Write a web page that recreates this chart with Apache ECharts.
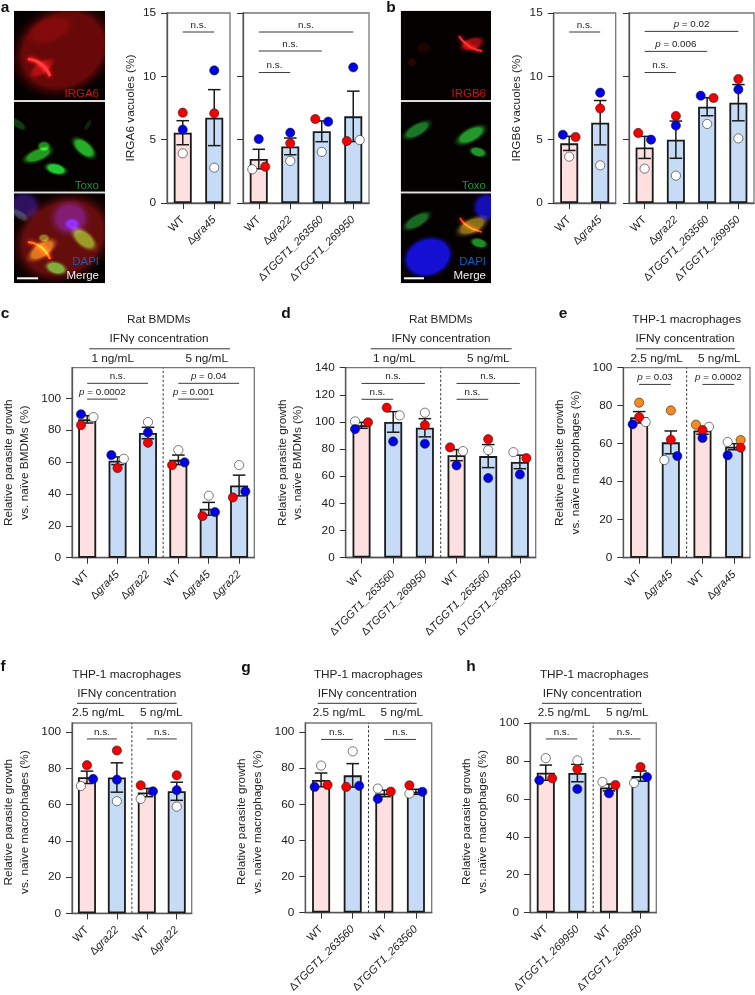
<!DOCTYPE html>
<html><head><meta charset="utf-8">
<style>html,body{margin:0;padding:0;background:#fff}#c{width:755px;height:995px}</style>
<script src="https://cdn.jsdelivr.net/npm/echarts@6/dist/echarts.min.js"></script>
</head><body><div id="c"></div>
<script>
// ---------- tick labels ----------
const ticksVac=[0,5,10,15];
const ticksTo100=[0,20,40,60,80,100];
const ticksTo140=[0,20,40,60,80,100,120,140];
// ---------- panel a ----------
const a1Cats=['WT','Δgra45'];
const a1Mean=[5.55,6.74], a1Sem=[0.95,2.21];
const a1Red=[7.13,7.08], a1Blue=[5.79,10.47], a1White=[3.92,2.79];
const a2Cats=['WT','Δgra22','ΔTGGT1_263560','ΔTGGT1_269950'];
const a2Mean=[3.47,4.47,5.66,6.84], a2Sem=[0.77,0.66,0.82,1.99];
const a2Red=[2.87,4.71,6.63,4.89], a2Blue=[5.05,5.55,6.42,10.71], a2White=[2.66,3.32,4.03,4.97];
// ---------- panel b ----------
const b1Cats=['WT','Δgra45'];
const b1Mean=[4.71,6.34], b1Sem=[0.56,1.75];
const b1Red=[5.21,7.47], b1Blue=[5.39,8.71], b1White=[3.66,2.97];
const b2Cats=['WT','Δgra22','ΔTGGT1_263560','ΔTGGT1_269950'];
const b2Mean=[4.39,5.0,7.6,7.92], b2Sem=[0.87,1.47,0.71,1.43];
const b2Red=[5.53,6.87,8.29,9.79], b2Blue=[5.0,6.11,8.47,8.97], b2White=[2.71,2.16,6.24,5.1];
// ---------- panel c ----------
const cCats=['WT','Δgra45','Δgra22','WT','Δgra45','Δgra22'];
const cMean=[86.8,60.8,78.2,61.4,30.7,45.3], cSem=[2.3,2.4,3.6,3.0,4.0,6.5];
const cRed=[83.2,56.2,72.1,58.1,26.1,37.8], cBlue=[90,64.4,78.6,59.8,28.6,41.6], cWhite=[88.2,62.1,85.1,67.5,38.9,58.1];
// ---------- panel d ----------
const dCats=['WT','ΔTGGT1_263560','ΔTGGT1_269950','WT','ΔTGGT1_263560','ΔTGGT1_269950'];
const dMean=[97.5,100,95.7,75.5,74.8,70.5], dSem=[2.2,7.6,6.7,4.1,8.5,5.0];
const dRed=[99.7,110.5,97.7,81.2,87.3,73.3], dBlue=[94.7,85.6,83.9,67.9,58.6,61.3], dWhite=[100.4,104.8,106.8,78.5,79.2,77.7];
// ---------- panel e ----------
const eCats=['WT','Δgra45','WT','Δgra45'];
const eMean=[73.9,60.7,67,58.4], eSem=[3.0,6.0,2.0,1.6];
const eRed=[74,62.1,67.2,57.9], eBlue=[70.2,53.5,63,53.9], eWhite=[71.4,51.4,68.9,60.9], eOrange=[81.6,77.5,70,61.9];
// ---------- panel f ----------
const fCats=['WT','Δgra22','WT','Δgra22'];
const fMean=[75.1,75,66.7,67.4], fSem=[3.4,8.1,2.3,5.0];
const fRed=[81.8,89.9,70.7,76.2], fBlue=[74.2,73.8,67.4,68], fWhite=[70.3,61.9,63.2,58.9];
// ---------- panel g ----------
const gCats=['WT','ΔTGGT1_263560','WT','ΔTGGT1_263560'];
const gMean=[73.5,76,66,66.9], gSem=[3.8,6.5,1.8,1.4];
const gRed=[70.7,69.6,67,70.5], gBlue=[69.6,70.2,63,66.9], gWhite=[81.4,89.3,68.7,65.9];
// ---------- panel h ----------
const hCats=['WT','ΔTGGT1_269950','WT','ΔTGGT1_269950'];
const hMean=[73.8,73.6,66,72], hSem=[4.0,4.6,1.8,2.7];
const hRed=[70.8,75.7,67.3,76.8], hBlue=[69.8,65.2,62.9,71.5], hWhite=[81.5,80.3,68.9,68.4];
// ---------- significance annotations: from, to, value level, label ----------
const a1Sig=[[0,1,13.5,'n.s.']];
const a2Sig=[[0,3,13.5,'n.s.'],[0,2,12,'n.s.'],[0,1,10.3,'n.s.']];
const b1Sig=[[0,1,13.5,'n.s.']];
const b2Sig=[[0,3,13.55,'{i|p} = 0.02'],[0,2,11.97,'{i|p} = 0.006'],[0,1,10.3,'n.s.']];
const cSig=[[0,2,109.4,'n.s.'],[0,1,99.5,'{i|p} = 0.0002'],[3,5,109.4,'{i|p} = 0.04'],[3,4,99.5,'{i|p} = 0.001']];
const dSig=[[0,2,128.4,'n.s.'],[0,1,116.7,'n.s.'],[3,5,128.4,'n.s.'],[3,4,116.7,'n.s.']];
const eSig=[[0,1,91.2,'{i|p} = 0.03'],[2,3,91.2,'{i|p} = 0.0002']];
const fSig=[[0,1,96.3,'n.s.'],[2,3,96.3,'n.s.']];
const gSig=[[0,1,95.9,'n.s.'],[2,3,95.9,'n.s.']];
const hSig=[[0,1,91.6,'n.s.'],[2,3,91.6,'n.s.']];

// ---------- layout and styles ----------
const FONT='"Liberation Sans",Arial,Helvetica,sans-serif';
const INK='#222', PINK='#fde0df', BLUE='#c6dcf6';
const growth=(t)=>'Relative parasite growth\nvs. naïve '+t+' (%)';
const Z=[0,0,0,0,0,0];
const panels=[
 {box:[167,13,230,203],max:15,ticks:ticksVac,labels:true,name:'IRGA6 vacuoles (%)',gap:29,cats:a1Cats,mean:a1Mean,sem:a1Sem,red:a1Red,blue:a1Blue,white:a1White,sig:a1Sig,wt:[0],side:{}},
 {box:[243,13,369,203],max:15,ticks:ticksVac,labels:false,cats:a2Cats,mean:a2Mean,sem:a2Sem,red:a2Red,blue:a2Blue,white:a2White,sig:a2Sig,wt:[0],
  side:{red:[1,0,-1,-1],blue:[0,0,1,0],white:[-1,0,0,1]}},
 {box:[553.7,13,615.7,203],max:15,ticks:ticksVac,labels:true,name:'IRGB6 vacuoles (%)',gap:29,cats:b1Cats,mean:b1Mean,sem:b1Sem,red:b1Red,blue:b1Blue,white:b1White,sig:b1Sig,wt:[0],
  side:{red:[1,0],blue:[-1,0]}},
 {box:[629,13,754,203],max:15,ticks:ticksVac,labels:false,cats:b2Cats,mean:b2Mean,sem:b2Sem,red:b2Red,blue:b2Blue,white:b2White,sig:b2Sig,wt:[0],
  side:{red:[-1,0,1,0],blue:[1,0,-1,0]}},
 {box:[64.5,367.7,254.3,557.7],max:119.2,ticks:ticksTo100,labels:true,name:growth('BMDMs'),gap:40,cats:cCats,mean:cMean,sem:cSem,red:cRed,blue:cBlue,white:cWhite,sig:cSig,wt:[0,3],div:2.5,
  side:{red:[-1,0,0,-1,-1,-1],blue:[-1,-1,0,1,1,1],white:[1,1,0,0,0,0]}},
 {box:[345.7,367.7,535.7,557.5],max:140,ticks:ticksTo140,labels:true,name:growth('BMDMs'),gap:40,cats:dCats,mean:dMean,sem:dSem,red:dRed,blue:dBlue,white:dWhite,sig:dSig,wt:[0,3],div:2.5,
  side:{red:[1,-1,0,-1,0,1],blue:[-1,0,0,0,0,0],white:[-1,1,0,1,0,-1]}},
 {box:[623.3,367.7,750,557.7],max:100,ticks:ticksTo100,labels:true,name:growth('macrophages'),gap:40,cats:eCats,mean:eMean,sem:eSem,red:eRed,blue:eBlue,white:eWhite,orange:eOrange,sig:eSig,wt:[0,2],div:1.5,
  side:{red:[0,0,0,1],blue:[-1,1,0,-1],white:[1,-1,1,-1],orange:[0,0,-1,1]}},
 {box:[64.3,723,191.7,913.3],max:105.1,ticks:ticksTo100,labels:true,name:growth('macrophages'),gap:40,pad:8,cats:fCats,mean:fMean,sem:fSem,red:fRed,blue:fBlue,white:fWhite,sig:fSig,wt:[0,2],div:1.5,
  side:{red:[0,0,-1,0],blue:[1,0,1,0],white:[-1,0,-1,0]}},
 {box:[305.3,723,431.7,912.7],max:105,ticks:ticksTo100,labels:true,name:growth('macrophages'),gap:40,pad:8,cats:gCats,mean:gMean,sem:gSem,red:gRed,blue:gBlue,white:gWhite,sig:gSig,wt:[0,2],div:1.5,
  side:{red:[1,-1,1,-1],blue:[-1,1,-1,1],white:[0,0,-1,-1]}},
 {box:[530,723,656.3,912.7],max:100,ticks:ticksTo100,labels:true,name:growth('macrophages'),gap:40,pad:8,cats:hCats,mean:hMean,sem:hSem,red:hRed,blue:hBlue,white:hWhite,sig:hSig,wt:[0,2],div:1.5,
  side:{red:[1,0,1,0],blue:[-1,0,0,1],white:[0,0,-1,-1]}}
];
const DODGE=0.205;
const baseText={fontFamily:FONT,fontSize:11.8,color:INK};
const catText={fontFamily:FONT,fontSize:11,color:INK};
function catFmt(v){
  return v[0]==='Δ'?'{n|Δ}{i|'+v.slice(1)+'}':'{n|'+v+'}';
}
const grid=[],xAxis=[],yAxis=[],series=[];
panels.forEach((p,k)=>{
  const [l,t,r,b]=p.box;
  grid.push({left:l,top:t,width:r-l,height:b-t,show:true,borderColor:'#777',borderWidth:1.3,backgroundColor:'transparent'});
  const lineStyle={color:'#555',width:1.3};
  xAxis.push({type:'category',gridIndex:k,data:p.cats,boundaryGap:true,
    axisLine:{show:true,onZero:false,lineStyle},
    axisTick:{show:true,alignWithLabel:true,length:6,lineStyle:{color:'#333',width:1}},
    axisLabel:{show:true,interval:0,rotate:45,margin:15,verticalAlign:'middle',formatter:catFmt,hideOverlap:false,
      rich:{n:{...catText},i:{...catText,fontStyle:'italic'}}},
    splitLine:{show:false}});
  xAxis.push({type:'value',gridIndex:k,min:-0.5,max:p.cats.length-0.5,show:false,splitLine:{show:false}});
  yAxis.push({type:'value',gridIndex:k,min:0,max:p.max,
    name:p.name||'',nameLocation:'middle',nameGap:p.gap||0,nameRotate:90,nameMoveOverlap:false,
    nameTextStyle:{...baseText,lineHeight:15.5,align:'center',padding:p.pad?[0,p.pad,0,0]:0},
    axisLine:{show:true,onZero:false,lineStyle},
    axisTick:{show:true,length:6,customValues:p.ticks,lineStyle:{color:'#333',width:1}},
    axisLabel:{show:p.labels,customValues:p.labels?p.ticks:undefined,margin:11,...baseText},
    splitLine:{show:false}});
  const xc=2*k, xv=2*k+1;
  series.push({type:'bar',xAxisIndex:xc,yAxisIndex:k,barWidth:18,z:2,silent:true,
    data:p.mean.map((v,i)=>({value:v,itemStyle:{color:p.wt.includes(i)?PINK:BLUE,borderColor:'#1a1a1a',borderWidth:1.8}}))});
  series.push({type:'custom',xAxisIndex:xv,yAxisIndex:k,z:3,silent:true,
    data:p.mean.map((v,i)=>[i,v,p.sem[i]]),encode:{x:0,y:1},
    renderItem:(ps,api)=>{
      const i=api.value(0),m=api.value(1),s=api.value(2);
      const hi=api.coord([i,m+s]),lo=api.coord([i,m-s]);
      const st={stroke:'#1a1a1a',lineWidth:1.5,fill:null};
      return {type:'group',children:[
        {type:'line',shape:{x1:hi[0],y1:hi[1],x2:lo[0],y2:lo[1]},style:st},
        {type:'line',shape:{x1:hi[0]-6.3,y1:hi[1],x2:hi[0]+6.3,y2:hi[1]},style:st},
        {type:'line',shape:{x1:lo[0]-6.3,y1:lo[1],x2:lo[0]+6.3,y2:lo[1]},style:st}]};
    }});
  const dots=[['white','#ffffff'],['orange','#f68a1e'],['red','#f50000'],['blue','#0000e6']];
  dots.forEach(([key,col])=>{
    if(!p[key])return;
    const side=p.side[key]||Z;
    series.push({type:'scatter',xAxisIndex:xv,yAxisIndex:k,symbolSize:9.2,z:4,silent:true,clip:false,
      itemStyle:{color:col,borderColor:'#222',borderWidth:0.6,opacity:1},
      data:p[key].map((v,i)=>[i+side[i]*DODGE,v])});
  });
  series.push({type:'custom',xAxisIndex:xv,yAxisIndex:k,z:5,silent:true,clip:false,
    data:p.sig.map(s=>[s[0],s[2]]),encode:{x:0,y:1},
    renderItem:(ps,api)=>{
      const s=p.sig[ps.dataIndex];
      const a=api.coord([s[0],s[2]]),c=api.coord([s[1],s[2]]);
      return {type:'group',children:[
        {type:'line',shape:{x1:a[0],y1:a[1],x2:c[0],y2:c[1]},style:{stroke:INK,lineWidth:0.9,fill:null}},
        {type:'text',x:(a[0]+c[0])/2,y:a[1]-7,style:{text:s[3],x:0,y:0,align:'center',verticalAlign:'middle',fontFamily:FONT,fontSize:9.8,fill:INK,
          rich:{i:{fontStyle:'italic',fontFamily:FONT,fontSize:9.8,fill:INK}}}}]};
    }});
  if(p.div!==undefined){
    series.push({type:'custom',xAxisIndex:xv,yAxisIndex:k,z:5,silent:true,
      data:[[p.div,0]],encode:{x:0,y:1},
      renderItem:(ps,api)=>{
        const a=api.coord([api.value(0),0]),c=api.coord([api.value(0),p.max]);
        return {type:'line',shape:{x1:a[0],y1:a[1],x2:c[0],y2:c[1]},style:{stroke:INK,lineWidth:0.9,lineDash:[2.5,2],fill:null}};
      }});
  }
});

// ---------- header texts, panel letters and micrographs (non-data decoration) ----------
const g=[];
function txt(s,x,y,o){g.push({type:'text',x,y,silent:true,style:Object.assign({text:s,x:0,y:0,align:'center',verticalAlign:'middle',fontFamily:FONT,fontSize:11.8,fill:INK},o||{})});}
function hline(x1,x2,y){g.push({type:'line',silent:true,shape:{x1,y1:y,x2,y2:y},style:{stroke:'#333',lineWidth:1}});}
function head(title,titleX,y0,ifnX,lineA,lineB,c1,c1X,c2X){
  txt(title,titleX,y0);
  txt('IFNγ concentration',ifnX,y0+18.8);
  hline(lineA,lineB,y0+28.8);
  txt(c1,c1X,y0+38.6);
  txt('5 ng/mL',c2X,y0+38.6);
}
head('Rat BMDMs',158.7,320,159,89.3,230,'1 ng/mL',112.7,206.7);
head('Rat BMDMs',440.7,320,441,370.7,511.7,'1 ng/mL',394.3,488.3);
head('THP-1 macrophages',686.7,320,685,636,735,'2.5 ng/mL',656.7,719.3);
head('THP-1 macrophages',126.7,674.5,126.7,77,176.7,'2.5 ng/mL',98.3,161.3);
head('THP-1 macrophages',368.3,674.5,367.3,317.7,416.7,'2.5 ng/mL',339,401.7);
head('THP-1 macrophages',594.3,674.5,592.3,542,641.7,'2.5 ng/mL',564,627.3);

function rect(x,y,w,h,fill){g.push({type:'rect',silent:true,shape:{x,y,width:w,height:h},style:{fill}});}
function blob(x,y,rx,ry,deg,col,core){
  // a unit disc scaled to an ellipse so that its radial fade follows the ellipse
  g.push({type:'circle',silent:true,x,y,rotation:-deg*Math.PI/180,scaleX:rx/10,scaleY:ry/10,shape:{cx:0,cy:0,r:10},
    style:{blend:'lighter',fill:{type:'radial',x:.5,y:.5,r:.5,colorStops:[{offset:0,color:col},{offset:core||.55,color:col},{offset:1,color:'rgba(0,0,0,0)'}]}}});
}
function arc(pts,col,w){g.push({type:'polyline',silent:true,shape:{points:pts,smooth:.5},style:{stroke:col,lineWidth:w,fill:null,shadowBlur:4,shadowColor:col,blend:'lighter'}});}

// micrograph panels
const ax=14,aw=91,ys=[10.7,102,193.3],ph=[89.6,89.7,90];
const bx=400.7,bw=90.3;
[ax,bx].forEach((x,j)=>ys.forEach((y,i)=>rect(x,y,j?bw:aw,ph[i],'#050000')));
// a red
blob(63,50,60,50,-30,'rgba(125,10,10,.8)',.7);
blob(50,30,30,16,-20,'rgba(50,5,5,.5)');
blob(42,68,18,8,-35,'rgba(130,15,15,.55)');
arc([[28,59],[38,62],[46,69],[50,76]],'#f02828',2.6);
// a green
blob(84,148,18,9,40,'rgba(35,185,40,.95)');
blob(38,155,20,8,-22,'rgba(35,170,35,.9)');
blob(56,169,14,7,15,'rgba(30,200,50,1)');
blob(44,146,8,6,0,'rgba(30,150,30,.9)');
blob(18,124,12,5,35,'rgba(15,90,25,.7)');
blob(88,125,8,3,-60,'rgba(15,70,25,.5)');
// a merge
blob(63,238,60,48,-30,'rgba(120,15,15,.8)',.7);
blob(24,206,20,18,0,'rgba(45,20,110,.85)');
blob(70,218,24,22,0,'rgba(35,20,120,.85)');
blob(72,224,9,7,0,'rgba(20,20,190,.85)');
blob(84,239,19,10,40,'rgba(60,150,30,.95)');
blob(42,250,21,10,-35,'rgba(130,110,20,.95)');
arc([[28,242],[38,245],[46,252],[50,259]],'#f05010',2.2);
blob(56,268,14,8,15,'rgba(30,170,50,.95)');
blob(44,238,7,5,0,'rgba(60,130,30,.8)');
blob(20,215,12,5,35,'rgba(50,90,25,.6)');
// b red
blob(472,44,16,8,-20,'rgba(170,15,15,.85)');
arc([[459,36],[464,42],[472,48],[482,51]],'#ff2020',1.8);
blob(424,48,9,7,0,'rgba(50,5,5,.5)');
blob(412,62,6,5,0,'rgba(65,5,5,.6)');
// b green
blob(417,130,20,8,-30,'rgba(25,140,45,.85)');
blob(471,135,21,9,-28,'rgba(30,160,45,.95)');
blob(478,152,11,6,15,'rgba(30,165,45,.9)');
// b merge
blob(417,221,20,8,-30,'rgba(25,130,45,.8)');
blob(472,226,21,10,-25,'rgba(140,115,25,.95)');
arc([[460,218],[465,224],[473,229],[482,232]],'#f03a10',1.6);
blob(479,243,11,6,15,'rgba(30,165,45,.85)');
blob(428,257,28,22,-20,'rgba(15,15,210,1)',.75);
blob(487,207,17,17,0,'rgba(15,15,180,1)',.6);
// keep micrograph contents inside their frames
rect(0,0,ax,300,'#fff');rect(105,0,15,300,'#fff');rect(380,0,bx-380,300,'#fff');rect(491,0,15,300,'#fff');
rect(0,0,120,10.7,'#fff');rect(380,0,126,10.7,'#fff');rect(0,283.3,120,14,'#fff');rect(380,283.3,126,14,'#fff');
[[14,91],[400.7,90.3]].forEach(([x,w])=>{rect(x,100.3,w,1.7,'#e0e0e0');rect(x,191.7,w,1.6,'#e0e0e0');});
// micrograph captions
const cap=(s,x,y,c)=>txt(s,x,y,{align:'right',fill:c,fontSize:11.5});
cap('IRGA6',99,94,'#d01010');cap('Toxo',99,186,'#0f9a3c');cap('DAPI',99,262,'#0b5fc0');cap('Merge',99,276,'#f0f0f0');
cap('IRGB6',486,94,'#d01010');cap('Toxo',486,186,'#0f9a3c');cap('DAPI',486,262,'#0b5fc0');cap('Merge',486,276,'#f0f0f0');
rect(17,277.3,21,2,'#fff');rect(404,277.3,20,2,'#fff');
// panel letters
[['a',5,7.5],['b',391,7.5],['c',5,313.5],['d',286,313.5],['e',563,313.5],['f',3,667],['g',246,668],['h',471,667]].forEach(([s,x,y])=>
  txt(s,x,y,{fontSize:15.5,fontWeight:'bold',fill:'#111'}));

const chart=echarts.init(document.getElementById('c'),null,{renderer:'canvas',width:755,height:995});
chart.setOption({animation:false,backgroundColor:'#fff',tooltip:{show:false},legend:{show:false},
  grid,xAxis,yAxis,series,graphic:{elements:g}});
</script></body></html>
